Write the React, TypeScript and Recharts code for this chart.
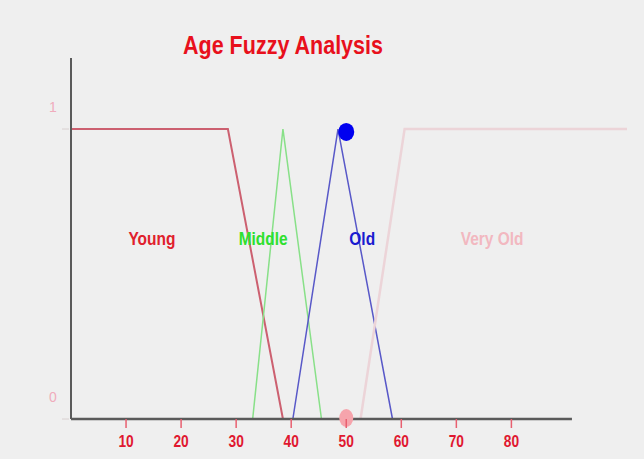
import { ComposedChart, Line, Scatter, XAxis, YAxis, ReferenceLine, ReferenceDot } from "recharts";

document.body.style.margin = "0";
document.body.style.background = "#efefef";

// membership functions: [age, membership]
const young = [
  { age: 0, mu: 1 },
  { age: 28.5, mu: 1 },
  { age: 38.5, mu: 0 },
];
const middle = [
  { age: 33, mu: 0 },
  { age: 38.5, mu: 1 },
  { age: 45.5, mu: 0 },
];
const old = [
  { age: 40.3, mu: 0 },
  { age: 48.5, mu: 1 },
  { age: 58.4, mu: 0 },
];
const veryOld = [
  { age: 52.6, mu: 0 },
  { age: 60.6, mu: 1 },
  { age: 101, mu: 1 },
];

// evaluated point for age 50
const oldPoint = [{ age: 50, mu: 0.99 }];
const veryOldPoint = [{ age: 50, mu: 0 }];

const xTicks = [10, 20, 30, 40, 50, 60, 70, 80];
const yTicks = [0, 1];

const setNames = ["Young", "Middle", "Old", "Very Old"];
const setColors = ["#e0202c", "#2ee02e", "#1a1ad0", "#f2b8c0"];
const setLabelAge = [14.7, 34.9, 52.9, 76.5];
const setLabelMu = 0.62;

const font = "'Liberation Sans', Arial, sans-serif";
const narrow = 0.86; // the original uses a condensed face

function XTick(props: any) {
  const { x, y, payload } = props;
  return (
    <g>
      <line x1={x} y1={y} x2={x} y2={y + 9} stroke="#e86070" strokeWidth={1.5} />
      <text
        transform={`translate(${x},${y + 28}) scale(${narrow},1)`}
        textAnchor="middle"
        fill="#e01830"
        fontSize={16}
        fontWeight="bold"
        fontFamily={font}
      >
        {payload.value}
      </text>
    </g>
  );
}

function YTick(props: any) {
  const { x, y, payload } = props;
  return (
    <g>
      <line x1={x - 9} y1={y} x2={x - 2} y2={y} stroke="#d8d0d0" strokeWidth={1} />
      <text x={x - 18} y={y - 17} textAnchor="middle" fill="#f0acbc" fontSize={14} fontFamily={font}>
        {payload.value}
      </text>
    </g>
  );
}

export default function App() {
  return (
    <div style={{ position: "relative", width: 644, height: 459, background: "#efefef" }}>
      <div
        style={{
          position: "absolute",
          left: 0,
          width: 566,
          top: 31,
          textAlign: "center",
          color: "#e8101c",
          fontFamily: font,
          fontWeight: "bold",
          fontSize: 25,
          lineHeight: "28px",
          transform: `scale(${narrow},1)`,
          transformOrigin: "283px 0",
        }}
      >
        Age Fuzzy Analysis
      </div>
      <ComposedChart width={644} height={459} margin={{ top: 58, right: 17, left: 0, bottom: 0 }}>
        <XAxis
          type="number"
          dataKey="age"
          domain={[0, 101]}
          ticks={xTicks}
          axisLine={false}
          tickLine={false}
          tickSize={0}
          tickMargin={0}
          height={40}
          tick={<XTick />}
        />
        <YAxis
          type="number"
          dataKey="mu"
          domain={[0, 1.245]}
          ticks={yTicks}
          width={71}
          axisLine={{ stroke: "#5a5a5a", strokeWidth: 2 }}
          tickLine={false}
          tickSize={0}
          tickMargin={0}
          tick={<YTick />}
        />
        <Line data={young} dataKey="mu" type="linear" stroke="#cc6070" strokeWidth={2} dot={false} isAnimationActive={false} />
        <Line data={middle} dataKey="mu" type="linear" stroke="#88e088" strokeWidth={1.5} dot={false} isAnimationActive={false} />
        <Line data={old} dataKey="mu" type="linear" stroke="#5858c8" strokeWidth={1.5} dot={false} isAnimationActive={false} />
        <Line data={veryOld} dataKey="mu" type="linear" stroke="#ecd4d8" strokeWidth={2.5} dot={false} isAnimationActive={false} />
        <Scatter
          data={oldPoint}
          dataKey="mu"
          fill="#0000f0"
          isAnimationActive={false}
          shape={(p: any) => <ellipse cx={p.cx} cy={p.cy} rx={8} ry={9} fill="#0000f0" />}
        />
        <ReferenceLine
          segment={[
            { x: 0, y: 0 },
            { x: 91, y: 0 },
          ]}
          stroke="#5a5a5a"
          strokeWidth={2.5}
          ifOverflow="visible"
        />
        {veryOldPoint.map((pt) => (
          <ReferenceDot
            key="veryOldPoint"
            x={pt.age}
            y={pt.mu}
            ifOverflow="visible"
            shape={(p: any) => <ellipse cx={p.cx} cy={p.cy - 1} rx={7} ry={9} fill="#f6a4ac" />}
          />
        ))}
        {setNames.map((name, i) => (
          <ReferenceDot
            key={name}
            x={setLabelAge[i]}
            y={setLabelMu}
            r={0}
            shape={(p: any) => (
              <text
                transform={`translate(${p.cx},${p.cy + 6}) scale(${narrow},1)`}
                textAnchor="middle"
                fill={setColors[i]}
                fontSize={18}
                fontWeight="bold"
                fontFamily={font}
              >
                {name}
              </text>
            )}
          />
        ))}
      </ComposedChart>
    </div>
  );
}
